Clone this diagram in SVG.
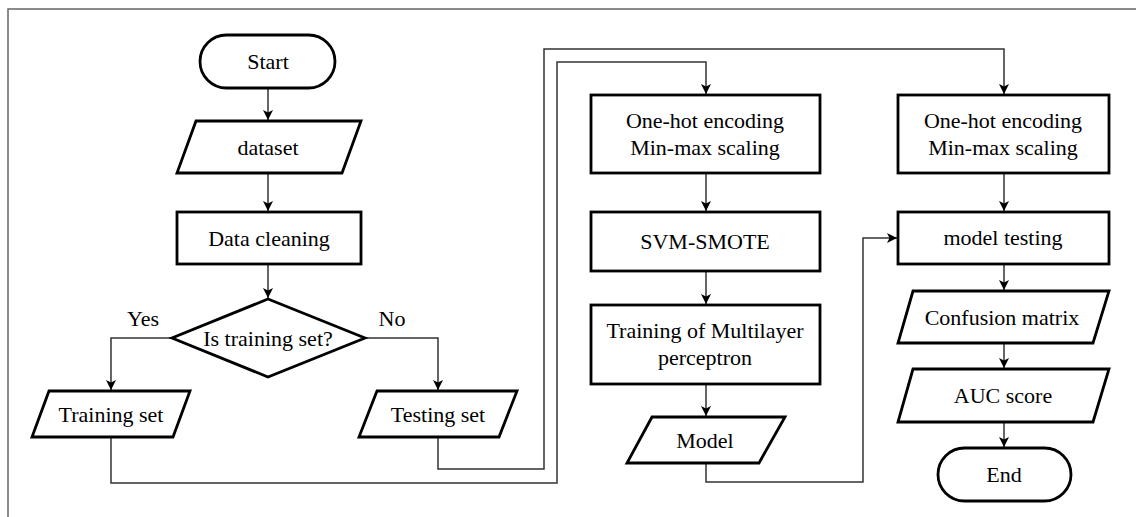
<svg xmlns="http://www.w3.org/2000/svg" width="1136" height="517" viewBox="0 0 1136 517">
<style>
.s{fill:#fff;stroke:#000;stroke-width:2.8;stroke-linejoin:miter}
.t{font-family:'Liberation Serif','DejaVu Serif',serif;font-size:22px;fill:#000;text-anchor:middle}
.c{fill:none;stroke:#333;stroke-width:1.5}
.f{fill:none;stroke:#666;stroke-width:1.5}
</style>
<defs>
<marker id="ah" viewBox="0 0 10 10" refX="10" refY="5" markerWidth="10" markerHeight="10" markerUnits="userSpaceOnUse" orient="auto">
<path d="M0,0 L10,5 L0,10 L2.5,5 z" fill="#000"/>
</marker>
</defs>
<g id="frame">
<polyline class="f" points="8,517 8,9 1136,9"/>
</g>
<g id="connectors">
<line class="c" x1="268" y1="88" x2="268" y2="120" marker-end="url(#ah)"/>
<line class="c" x1="268" y1="173" x2="268" y2="211" marker-end="url(#ah)"/>
<line class="c" x1="268" y1="264" x2="268" y2="298" marker-end="url(#ah)"/>
<polyline class="c" points="172,338 111,338 111,390" marker-end="url(#ah)"/>
<polyline class="c" points="365,338 438,338 438,390" marker-end="url(#ah)"/>
<polyline class="c" points="111,437 111,483 557,483 557,62 706,62 706,94" marker-end="url(#ah)"/>
<polyline class="c" points="438,437 438,469 544,469 544,49 1004,49 1004,94" marker-end="url(#ah)"/>
<line class="c" x1="706" y1="173" x2="706" y2="211" marker-end="url(#ah)"/>
<line class="c" x1="706" y1="271" x2="706" y2="304" marker-end="url(#ah)"/>
<line class="c" x1="706" y1="384" x2="706" y2="416" marker-end="url(#ah)"/>
<polyline class="c" points="706,463 706,482 863,482 863,238 897,238" marker-end="url(#ah)"/>
<line class="c" x1="1004" y1="173" x2="1004" y2="211" marker-end="url(#ah)"/>
<line class="c" x1="1004" y1="264" x2="1004" y2="290" marker-end="url(#ah)"/>
<line class="c" x1="1004" y1="343" x2="1004" y2="368" marker-end="url(#ah)"/>
<line class="c" x1="1004" y1="422" x2="1004" y2="447" marker-end="url(#ah)"/>
</g>
<g id="labels" font-family="Liberation Serif, DejaVu Serif, serif">
<text class="t" x="143" y="326">Yes</text>
<text class="t" x="392" y="326">No</text>
</g>
<g id="start">
<rect class="s" x="200" y="35" width="135" height="53" rx="26.5"/>
<text class="t" x="268" y="69">Start</text>
</g>
<g id="dataset">
<polygon class="s" points="196,121 361,121 342,173 177,173"/>
<text class="t" x="268" y="155">dataset</text>
</g>
<g id="data-cleaning">
<rect class="s" x="177" y="212" width="184" height="52"/>
<text class="t" x="269" y="246">Data cleaning</text>
</g>
<g id="decision">
<polygon class="s" points="268,299 365,338 268,377 172,338"/>
<text class="t" x="268" y="346">Is training set?</text>
</g>
<g id="training-set">
<polygon class="s" points="49,391 190,391 173,437 32,437"/>
<text class="t" x="111" y="422">Training set</text>
</g>
<g id="testing-set">
<polygon class="s" points="377,391 517,391 499,437 359,437"/>
<text class="t" x="438" y="422">Testing set</text>
</g>
<g id="encode-train">
<rect class="s" x="591" y="95" width="229" height="78"/>
<text class="t" x="705" y="128">One-hot encoding</text>
<text class="t" x="705" y="155">Min-max scaling</text>
</g>
<g id="svm-smote">
<rect class="s" x="591" y="212" width="229" height="59"/>
<text class="t" x="705" y="249">SVM-SMOTE</text>
</g>
<g id="mlp">
<rect class="s" x="591" y="305" width="229" height="79"/>
<text class="t" x="705" y="338">Training of Multilayer</text>
<text class="t" x="705" y="365">perceptron</text>
</g>
<g id="model">
<polygon class="s" points="652,417 785,417 759,463 627,463"/>
<text class="t" x="705" y="448">Model</text>
</g>
<g id="encode-test">
<rect class="s" x="898" y="95" width="211" height="78"/>
<text class="t" x="1003" y="128">One-hot encoding</text>
<text class="t" x="1003" y="155">Min-max scaling</text>
</g>
<g id="model-testing">
<rect class="s" x="898" y="212" width="211" height="52"/>
<text class="t" x="1003" y="245">model testing</text>
</g>
<g id="confusion">
<polygon class="s" points="913,291 1109,291 1093,343 898,343"/>
<text class="t" x="1002" y="325">Confusion matrix</text>
</g>
<g id="auc">
<polygon class="s" points="913,369 1109,369 1093,422 898,422"/>
<text class="t" x="1003" y="403">AUC score</text>
</g>
<g id="end">
<rect class="s" x="938" y="448" width="133" height="53" rx="26.5"/>
<text class="t" x="1004" y="482">End</text>
</g>
</svg>
